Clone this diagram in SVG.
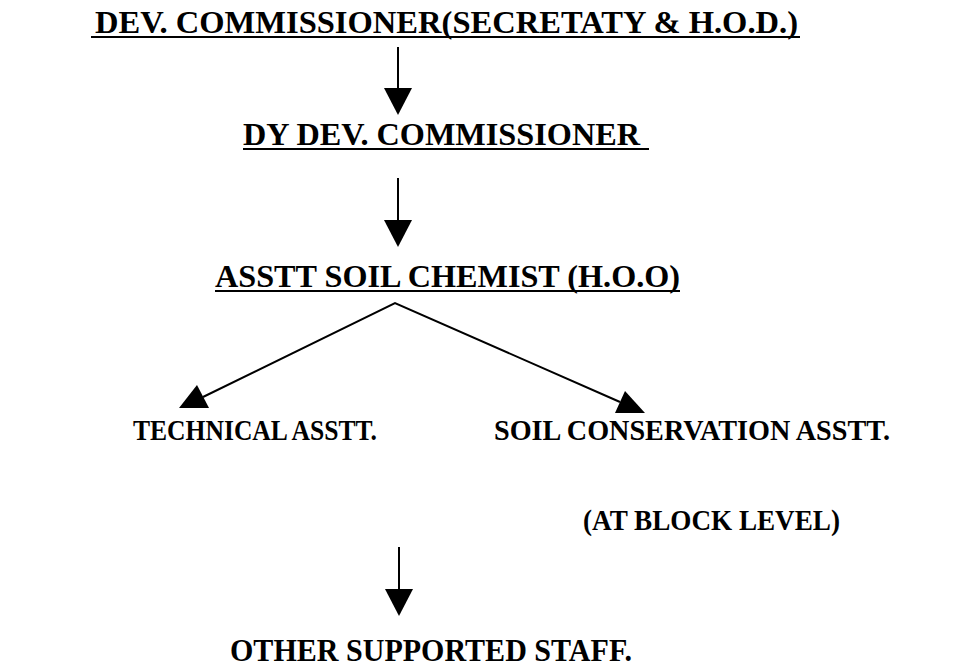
<svg xmlns="http://www.w3.org/2000/svg" width="962" height="667" viewBox="0 0 962 667">
<defs>
<style>
text{font-family:"Liberation Serif","Times New Roman",Times,serif;font-weight:bold;font-size:32px;fill:#000}
.sm{font-size:30px}
.md{font-size:31px}
.ul{fill:#000}
.ln{stroke:#000;stroke-width:2;fill:none}
.hd{fill:#000}
</style>
</defs>
<rect width="962" height="667" fill="#fff"/>
<g id="n1">
<text x="95" y="33" textLength="703" lengthAdjust="spacingAndGlyphs">DEV. COMMISSIONER(SECRETATY &amp; H.O.D.)</text>
<rect class="ul" x="91" y="36" width="709" height="2"/>
</g>
<g id="n2">
<text x="243" y="145" textLength="397" lengthAdjust="spacingAndGlyphs">DY DEV. COMMISSIONER</text>
<rect class="ul" x="243" y="148" width="406" height="2"/>
</g>
<g id="n3">
<text x="215" y="287" textLength="465" lengthAdjust="spacingAndGlyphs">ASSTT SOIL CHEMIST (H.O.O)</text>
<rect class="ul" x="215" y="290" width="465" height="2"/>
</g>
<g id="n4">
<text class="sm" x="133" y="440" textLength="244" lengthAdjust="spacingAndGlyphs">TECHNICAL ASSTT.</text>
</g>
<g id="n5">
<text class="sm" x="494" y="440" textLength="396" lengthAdjust="spacingAndGlyphs">SOIL CONSERVATION ASSTT.</text>
</g>
<g id="n6">
<text class="sm" x="583" y="530" textLength="257" lengthAdjust="spacingAndGlyphs">(AT BLOCK LEVEL)</text>
</g>
<g id="n7">
<text class="md" x="230" y="661" textLength="402" lengthAdjust="spacingAndGlyphs">OTHER SUPPORTED STAFF.</text>
</g>
<g id="connectors">
<line class="ln" x1="398" y1="47" x2="398" y2="89"/>
<polygon class="hd" points="384,88 412,88 398,115"/>
<line class="ln" x1="398" y1="178" x2="398" y2="221"/>
<polygon class="hd" points="384,220 412,220 398,247"/>
<polyline class="ln" points="203,397 395,303 620,402"/>
<polygon class="hd" points="179,408 197,385 209,408"/>
<polygon class="hd" points="645,413 625,391 615,413"/>
<line class="ln" x1="399" y1="547" x2="399" y2="590"/>
<polygon class="hd" points="385,589 413,589 399,616"/>
</g>
</svg>
